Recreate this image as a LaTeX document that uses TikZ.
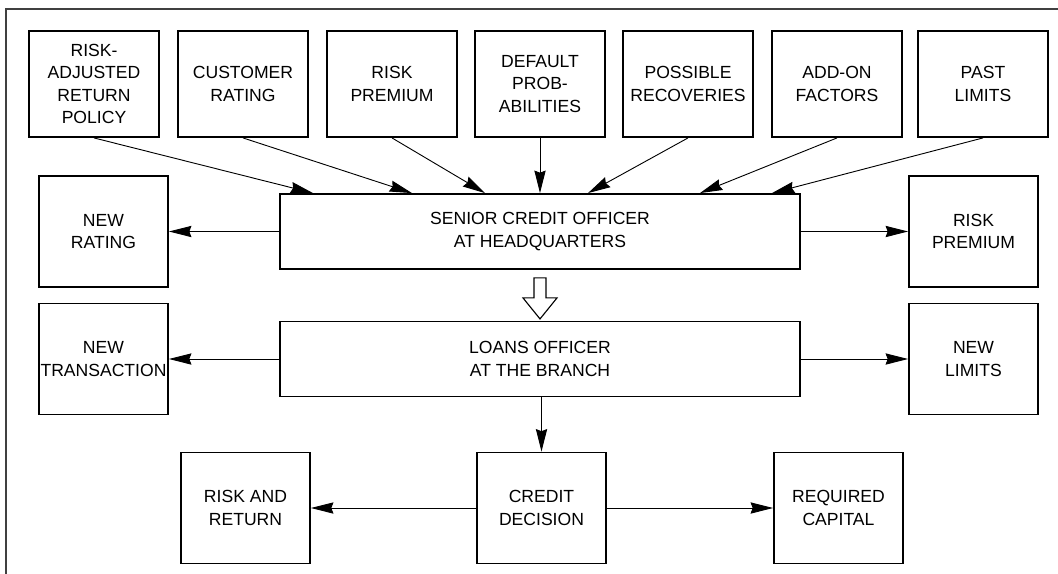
\documentclass[tikz,border=0pt]{standalone}
\usepackage{fontspec}
\setmainfont{Liberation Sans}
\usetikzlibrary{positioning,arrows.meta}

\begin{document}
\begin{tikzpicture}[
  x=0.025cm, y=-0.025cm,
  font=\fontsize{12.5}{15.8}\selectfont,
  box/.style={rectangle, draw=black, line width=1.3pt, minimum width=3.25cm,
              minimum height=2.65cm, inner sep=1pt, align=center},
  side/.style={box, minimum width=3.225cm, minimum height=2.775cm},
  bigbox/.style={box, minimum width=13cm, minimum height=1.875cm},
  arr/.style={-{Stealth[length=16pt, width=8pt, inset=1.5pt]}, line width=0.65pt},
  frame/.style={line width=1pt, draw=black!75}
]
\useasboundingbox (0,0) rectangle (1058,573);
\draw[frame] (6,590) -- (6,9) -- (1070,9);

% top row of inputs
\node[box] (in1) at (94,84)  {RISK-\\ADJUSTED\\RETURN\\POLICY};
\node[box] (in2) at (243,84) {CUSTOMER\\RATING};
\node[box] (in3) at (392,84) {RISK\\PREMIUM};
\node[box] (in4) at (540,84) {DEFAULT\\PROB-\\ABILITIES};
\node[box] (in5) at (688,84) {POSSIBLE\\RECOVERIES};
\node[box] (in6) at (837,84) {ADD-ON\\FACTORS};
\node[box] (in7) at (983,84) {PAST\\LIMITS};

% officers
\node[bigbox] (senior) at (540,231.5) {SENIOR CREDIT OFFICER\\AT HEADQUARTERS};
\node[bigbox] (loans)  at (540,359)   {LOANS OFFICER\\AT THE BRANCH};

% outputs at the sides
\node[side] (newrating) at (103.5,231.5) {NEW\\RATING};
\node[side] (newtrans)  at (103.5,359)   {NEW\\TRANSACTION};
\node[side] (riskprem)  at (973.5,231.5) {RISK\\PREMIUM};
\node[side] (newlimits) at (973.5,359)   {NEW\\LIMITS};

% bottom row
\node[side] (riskret)  at (245.5,508) {RISK AND\\RETURN};
\node[side] (decision) at (541.5,508) {CREDIT\\DECISION};
\node[side] (capital)  at (838.5,508) {REQUIRED\\CAPITAL};

\foreach \n/\tx in {1/313,2/412,3/485,4/540,5/588,6/700,7/772}
  \draw[arr] (in\n.south) -- (senior.north -| \tx,0);

\draw[arr] (senior.west) -- (newrating.east);
\draw[arr] (senior.east) -- (riskprem.west);
\draw[arr] (loans.west) -- (newtrans.east);
\draw[arr] (loans.east) -- (newlimits.west);

% hollow arrow
\draw[line width=0.8pt, line join=miter] (senior.south) ++(-6,8) -- ++(0,20) -- ++(-11,0)
  -- ++(17,21) -- ++(17,-21) -- ++(-11,0) -- ++(0,-20) -- cycle;

\draw[arr] (loans.south -| decision.north) -- (decision.north);
\draw[arr] (decision.west) -- (riskret.east);
\draw[arr] (decision.east) -- (capital.west);
\end{tikzpicture}
\end{document}
